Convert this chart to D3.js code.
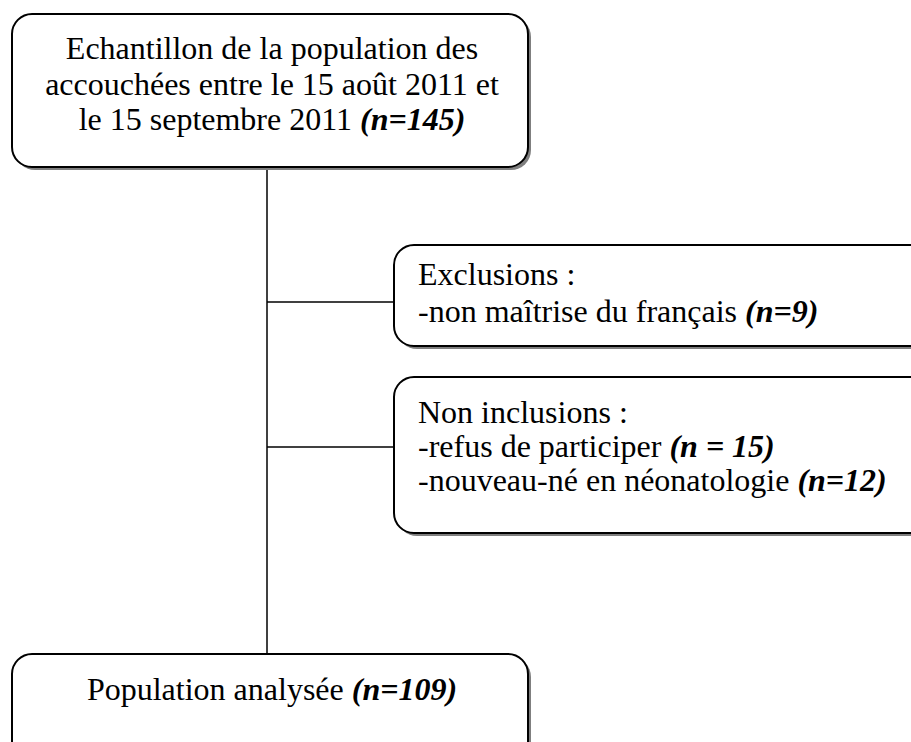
<!doctype html>
<html lang="fr">
  <head>
    <meta charset="utf-8">
    <title>flow chart</title>
    <script src="https://d3js.org/d3.v7.min.js"></script>
    <style>
      body { margin: 0; background: #fff; }
    </style>
  </head>
  <body>
    <div id="root"></div>
  </body>
  <script>

    // data: box texts and counts
    const topLines = ["Echantillon de la population des", "accouchées entre le 15 août 2011 et", "le 15 septembre 2011 "];
    const topCount = "(n=145)";
    const exclTitle = "Exclusions :";
    const exclItems = ["-non maîtrise du français "];
    const exclCounts = ["(n=9)"];
    const nonInclTitle = "Non inclusions :";
    const nonInclItems = ["-refus de participer ", "-nouveau-né en néonatologie "];
    const nonInclCounts = ["(n = 15)", "(n=12)"];
    const finalLabel = "Population analysée ";
    const finalCount = "(n=109)";

    // layout
    const width = 911, height = 742;
    const font = "Liberation Serif, Times New Roman, serif";
    const fontSize = 32;
    const lineH = 35.5;
    const boxes = [
      { id: "top", x: 12, y: 14, w: 516, h: 153 },
      { id: "excl", x: 394, y: 245, w: 560, h: 101 },
      { id: "noni", x: 394, y: 377, w: 560, h: 156 },
      { id: "final", x: 12, y: 654, w: 516, h: 130 }
    ];
    const spineX = 267;

    const svg = d3.select("#root").append("svg")
      .attr("width", width).attr("height", height);

    // connectors
    svg.append("line")
      .attr("x1", spineX).attr("x2", spineX)
      .attr("y1", 167).attr("y2", 654)
      .attr("stroke", "#000").attr("stroke-width", 1.5);
    [302, 447].forEach(y => {
      svg.append("line")
        .attr("x1", spineX).attr("x2", 394)
        .attr("y1", y).attr("y2", y)
        .attr("stroke", "#000").attr("stroke-width", 1.5);
    });

    // boxes with shadows
    const g = svg.selectAll("g.box").data(boxes).enter().append("g").attr("class", "box");
    g.append("rect")
      .attr("x", d => d.x + 3).attr("y", d => d.y + 3)
      .attr("width", d => d.w).attr("height", d => d.h)
      .attr("rx", 20).attr("fill", "#7f7f7f");
    g.append("rect")
      .attr("x", d => d.x).attr("y", d => d.y)
      .attr("width", d => d.w).attr("height", d => d.h)
      .attr("rx", 20).attr("fill", "#fff")
      .attr("stroke", "#000").attr("stroke-width", 2);

    function addText(x, y, anchor, plain, count) {
      const t = svg.append("text")
        .attr("x", x).attr("y", y)
        .attr("text-anchor", anchor)
        .attr("font-family", font)
        .attr("font-size", fontSize)
        .attr("fill", "#000");
      t.append("tspan").text(plain);
      if (count) t.append("tspan")
        .attr("font-weight", "bold").attr("font-style", "italic")
        .text(count);
      return t;
    }

    // top box text
    const topBox = boxes[0];
    topLines.forEach((s, i) => {
      addText(topBox.x + topBox.w / 2 + 2, 59 + i * lineH, "middle", s,
        i === topLines.length - 1 ? topCount : null);
    });

    // exclusions
    const ex = boxes[1];
    addText(ex.x + 24, 285, "start", exclTitle);
    exclItems.forEach((s, i) => addText(ex.x + 24, 285 + (i + 1) * 36.5, "start", s, exclCounts[i]));

    // non inclusions
    const ni = boxes[2];
    addText(ni.x + 24, 423, "start", nonInclTitle);
    nonInclItems.forEach((s, i) => addText(ni.x + 24, 423 + (i + 1) * 34, "start", s, nonInclCounts[i]));

    // final box
    const fb = boxes[3];
    addText(fb.x + fb.w / 2 + 2, 700, "middle", finalLabel, finalCount);

  </script>
</html>
